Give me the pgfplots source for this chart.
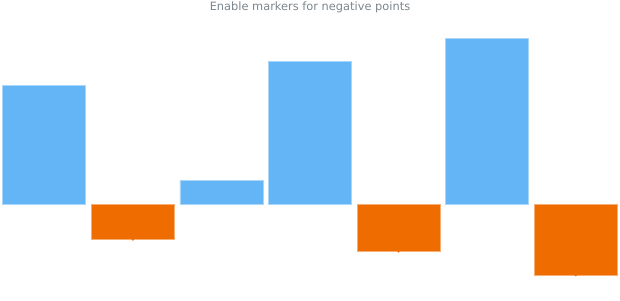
\documentclass[border=0pt]{standalone}
\usepackage{pgfplots}
\pgfplotsset{compat=1.18}
\usepackage{fontspec}
\setmainfont{DejaVu Sans}
\definecolor{posblue}{HTML}{64B5F6}
\definecolor{negorange}{HTML}{EF6C00}
\definecolor{titlegrey}{HTML}{7C868E}

\pgfplotstableread{
x  pos  neg
0  10   nan
1  nan  -3
2  2    nan
3  12   nan
4  nan  -4
5  14   nan
6  nan  -6
}\datatable

\begin{document}
\begin{tikzpicture}
\begin{axis}[
  scale only axis,
  width=620pt, height=284.4pt,
  xmin=-0.5, xmax=6.5,
  ymin=-8, ymax=16,
  hide axis,
  clip=false,
]
  \addplot[ybar, bar width=83pt, fill=posblue, draw=posblue!55!white, line width=0.6pt,
    unbounded coords=jump] table[x=x, y=pos] {\datatable};
  \addplot[ybar, bar width=83pt, fill=negorange, draw=negorange!55!white, line width=0.6pt,
    unbounded coords=jump] table[x=x, y=neg] {\datatable};
  % markers on the negative points
  \addplot[only marks, mark=*, mark size=0.9pt, color=negorange,
    unbounded coords=jump] table[x=x, y=neg] {\datatable};
  \coordinate (ll) at (rel axis cs:0,0);
  \coordinate (ur) at (rel axis cs:1,1);
  \coordinate (tc) at (rel axis cs:0.5,1);
\end{axis}
\node[anchor=center, inner sep=0pt, font=\fontsize{11.4}{13}\selectfont, text=titlegrey]
  at ([yshift=7.2pt]tc) {Enable markers for negative points};
\pgfresetboundingbox
\path[use as bounding box] ([yshift=-1.2pt]ll) rectangle ([yshift=14.4pt]ur);
\end{tikzpicture}
\end{document}
